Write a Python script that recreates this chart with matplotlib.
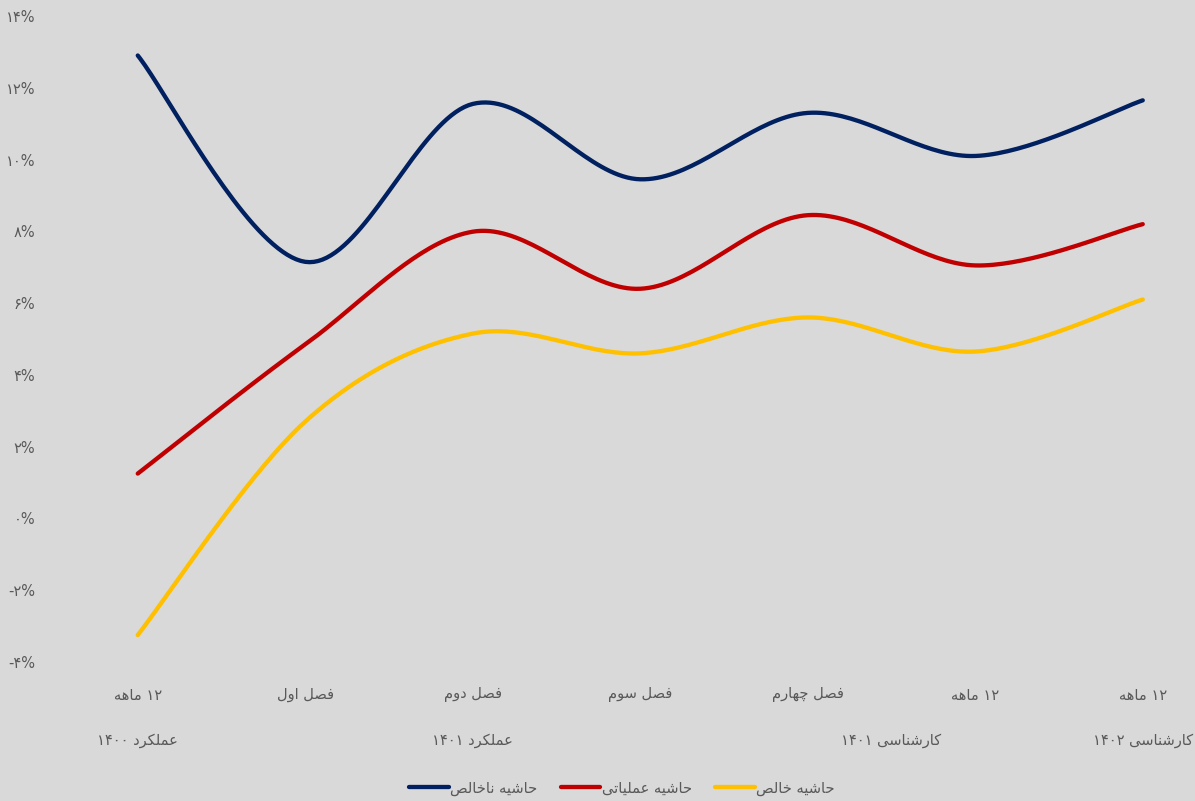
import numpy as np
import matplotlib
matplotlib.use("Agg")
import matplotlib.pyplot as plt
from matplotlib.lines import Line2D

# ---------------- data ----------------
categories = ["۱۲ ماهه", "فصل اول", "فصل دوم", "فصل سوم", "فصل چهارم", "۱۲ ماهه", "۱۲ ماهه"]
groups = [("عملکرد ۱۴۰۰", 0, 0), ("عملکرد ۱۴۰۱", 1, 3), ("کارشناسی ۱۴۰۱", 4, 5), ("کارشناسی ۱۴۰۲", 6, 6)]
series_names = ["حاشیه ناخالص", "حاشیه عملیاتی", "حاشیه خالص"]
gross_margin = [12.9, 7.15, 11.55, 9.45, 11.3, 10.1, 11.65]
operating_margin = [1.25, 4.85, 7.99, 6.4, 8.45, 7.05, 8.2]
net_margin = [-3.25, 2.7, 5.15, 4.6, 5.6, 4.65, 6.1]
y_ticks = [-4, -2, 0, 2, 4, 6, 8, 10, 12, 14]

colors = ["#002060", "#C00000", "#FFC000"]
bg = "#D9D9D9"
txt = "#595959"

# ---------------- simple Persian shaping (visual order) ----------------
FORMS = {
    "ا": ("\uFE8D", "\uFE8E", None, None),
    "ب": ("\uFE8F", "\uFE90", "\uFE91", "\uFE92"),
    "ت": ("\uFE95", "\uFE96", "\uFE97", "\uFE98"),
    "ح": ("\uFEA1", "\uFEA2", "\uFEA3", "\uFEA4"),
    "خ": ("\uFEA5", "\uFEA6", "\uFEA7", "\uFEA8"),
    "د": ("\uFEA9", "\uFEAA", None, None),
    "ر": ("\uFEAD", "\uFEAE", None, None),
    "س": ("\uFEB1", "\uFEB2", "\uFEB3", "\uFEB4"),
    "ش": ("\uFEB5", "\uFEB6", "\uFEB7", "\uFEB8"),
    "ص": ("\uFEB9", "\uFEBA", "\uFEBB", "\uFEBC"),
    "ع": ("\uFEC9", "\uFECA", "\uFECB", "\uFECC"),
    "ف": ("\uFED1", "\uFED2", "\uFED3", "\uFED4"),
    "ل": ("\uFEDD", "\uFEDE", "\uFEDF", "\uFEE0"),
    "م": ("\uFEE1", "\uFEE2", "\uFEE3", "\uFEE4"),
    "ن": ("\uFEE5", "\uFEE6", "\uFEE7", "\uFEE8"),
    "ه": ("\uFEE9", "\uFEEA", "\uFEEB", "\uFEEC"),
    "و": ("\uFEED", "\uFEEE", None, None),
    "ی": ("\uFBFC", "\uFBFD", "\uFBFE", "\uFBFF"),
    "ک": ("\uFB8E", "\uFB8F", "\uFB90", "\uFB91"),
    "چ": ("\uFB7A", "\uFB7B", "\uFB7C", "\uFB7D"),
}


def shape_word(w):
    out = []
    n = len(w)
    for i, c in enumerate(w):
        if c not in FORMS:
            out.append(c)
            continue
        f = FORMS[c]
        prev_j = i > 0 and w[i - 1] in FORMS and FORMS[w[i - 1]][2] is not None
        next_j = i < n - 1 and w[i + 1] in FORMS and f[2] is not None
        if prev_j and next_j:
            out.append(f[3])
        elif prev_j:
            out.append(f[1])
        elif next_j:
            out.append(f[2])
        else:
            out.append(f[0])
    return "".join(out)


def fa(s):
    toks = s.split(" ")
    vis = []
    for t in toks:
        if any(ch in FORMS for ch in t):
            vis.append(shape_word(t)[::-1])
        else:
            vis.append(t)
    return " ".join(vis[::-1])


def fa_digits(s):
    return s.translate(str.maketrans("0123456789", "۰۱۲۳۴۵۶۷۸۹"))


# ---------------- smooth curve (Excel-like Catmull-Rom) ----------------
def smooth(xs, ys, n=40):
    xs = np.asarray(xs, float)
    ys = np.asarray(ys, float)
    P = np.column_stack([xs, ys])
    P = np.vstack([P[0], P, P[-1]])
    out = []
    for i in range(1, len(P) - 2):
        p0, p1, p2, p3 = P[i - 1], P[i], P[i + 1], P[i + 2]
        c1 = p1 + (p2 - p0) / 6.0
        c2 = p2 - (p3 - p1) / 6.0
        t = np.linspace(0, 1, n)[:, None]
        seg = ((1 - t) ** 3) * p1 + 3 * ((1 - t) ** 2) * t * c1 + 3 * (1 - t) * t ** 2 * c2 + t ** 3 * p2
        out.append(seg if i == 1 else seg[1:])
    out = np.vstack(out)
    return out[:, 0], out[:, 1]


plt.rcParams["font.family"] = ["DejaVu Sans"]

W, H = 1195, 801
fig = plt.figure(figsize=(W / 100, H / 100), dpi=100)
fig.patch.set_facecolor(bg)

ax_left, ax_top, ax_bottom = 54, 16, 662
ax = fig.add_axes([ax_left / W, 1 - ax_bottom / H, (W - ax_left) / W, (ax_bottom - ax_top) / H])
ax.set_facecolor(bg)
for s in ax.spines.values():
    s.set_visible(False)

x = np.arange(len(categories))
step = 167.5
ax.set_xlim(-0.5, -0.5 + (W - ax_left) / step)
ax.set_ylim(-4, 14)

for vals, c, name in zip([gross_margin, operating_margin, net_margin], colors, series_names):
    sx, sy = smooth(x, vals)
    ax.plot(sx, sy, color=c, lw=3.1, solid_capstyle="round", label=name)

fs = 10.5
ax.set_yticks(y_ticks)
ax.set_yticklabels([fa_digits(f"{v}%") for v in y_ticks], color=txt, fontsize=fs)
ax.tick_params(axis="y", length=0, pad=13.5)
ax.set_xticks([])

trans = ax.get_xaxis_transform()
for i, lab in enumerate(categories):
    ax.text(x[i], -33 / (ax_bottom - ax_top), fa(lab), transform=trans, ha="center", va="center",
            fontsize=fs, color=txt)
for lab, a, b in groups:
    ax.text((x[a] + x[b]) / 2, -79 / (ax_bottom - ax_top), fa(lab), transform=trans, ha="center",
            va="center", fontsize=fs, color=txt)

handles = [Line2D([], [], color=c, lw=3.1, solid_capstyle="round") for c in colors]
fig.legend(handles, [fa(n) for n in series_names], loc="center", bbox_to_anchor=(622 / W, 1 - 788 / H),
           ncol=3, frameon=False, fontsize=fs, labelcolor=txt, handlelength=2.7,
           handletextpad=0.1, columnspacing=1.6)

fig.savefig("out.png", dpi=100, facecolor=bg)
